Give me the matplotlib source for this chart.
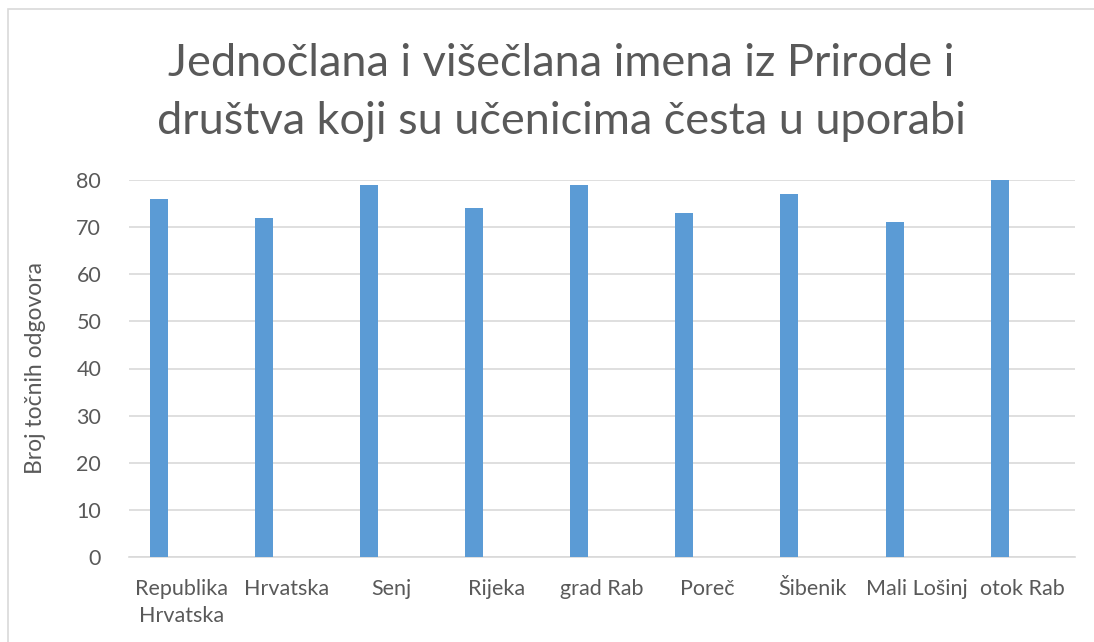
import numpy as np
import matplotlib.pyplot as plt
from matplotlib.patches import Rectangle

# Data
categories = ['Republika\nHrvatska', 'Hrvatska', 'Senj', 'Rijeka', 'grad Rab',
              'Poreč', 'Šibenik', 'Mali Lošinj', 'otok Rab']
values = [76, 72, 79, 74, 79, 73, 77, 71, 80]
y_ticks = [0, 10, 20, 30, 40, 50, 60, 70, 80]

title = 'Jednočlana i višečlana imena iz Prirode i\ndruštva koji su učenicima česta u uporabi'
y_label = 'Broj točnih odgovora'

text_color = '#595959'
bar_color = '#5b9bd5'
grid_color = '#d9d9d9'

plt.rcParams['font.family'] = ['Lato', 'DejaVu Sans']

fig = plt.figure(figsize=(10.94, 6.42), dpi=100)
ax = fig.add_axes([129 / 1094, 1 - 557 / 642, (1075 - 129) / 1094, (557 - 180) / 642])

# outer chart border (top and left visible)
fig.patches.append(Rectangle((8 / 1094, -0.1), 1.2, 1 - 9 / 642 + 0.1,
                             transform=fig.transFigure, fill=False,
                             edgecolor='#d9d9d9', linewidth=1.2))

x = np.arange(len(categories))
ax.bar(x - 0.217, values, width=0.171, color=bar_color, zorder=3)

ax.set_xlim(-0.5, len(categories) - 0.5)
ax.set_ylim(0, 80)
ax.set_yticks(y_ticks)
ax.set_xticks(x)
ax.set_xticklabels(categories, fontsize=15.5, color=text_color, linespacing=1.45)
ax.tick_params(axis='y', labelsize=15.5, labelcolor=text_color, length=0, pad=20)
ax.tick_params(axis='x', length=0, pad=16)

ax.yaxis.grid(True, color=grid_color, linewidth=1.2, zorder=0)
for side in ['top', 'right', 'left']:
    ax.spines[side].set_visible(False)
ax.spines['bottom'].set_color(grid_color)
ax.spines['bottom'].set_linewidth(1.2)

ax.set_ylabel(y_label, fontsize=16.5, color=text_color, labelpad=22)

fig.text(0.513, 0.856, title, fontsize=32.5, color=text_color, ha='center',
         va='center', linespacing=1.5)

fig.savefig('out.png', dpi=100)
